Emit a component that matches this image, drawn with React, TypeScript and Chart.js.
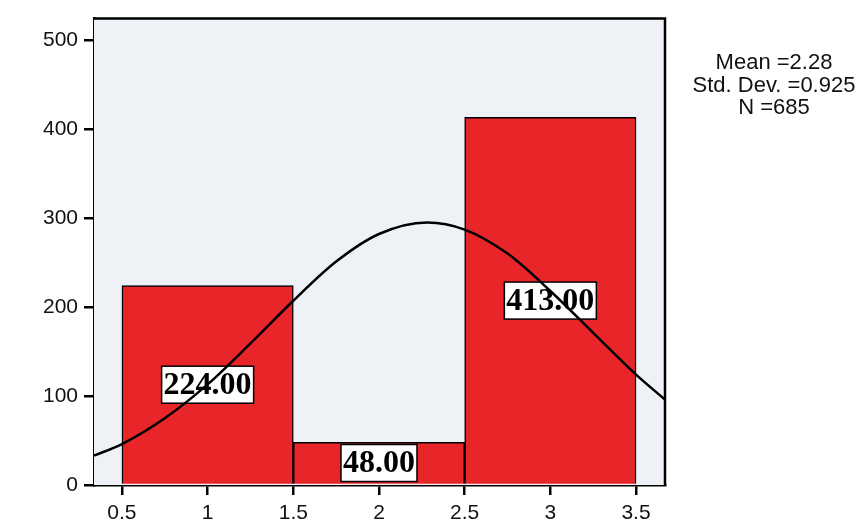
import React, { useEffect, useRef } from 'react';
import { Chart, registerables } from 'chart.js';

Chart.register(...registerables);

// Histogram bins (center of each bin) and counts
const binCenters = [1, 2, 3];
const binCounts = [224, 48, 413];
const binLabels = ['224.00', '48.00', '413.00'];

// Normal curve points
const curveX = [0.337, 0.5, 0.75, 1, 1.25, 1.5, 1.75, 2, 2.28, 2.5, 2.75, 3, 3.25, 3.5, 3.669];
const curveY = [33, 46, 75, 113, 159, 207, 251, 282, 295, 287, 260, 218, 171, 124, 96];

// Axis ticks
const xTicks = [0.5, 1, 1.5, 2, 2.5, 3, 3.5];
const yTicks = [0, 100, 200, 300, 400, 500];
const xRange = [0.337, 3.669];
const yRange = [0, 524];

// Statistics box
const statLines = ['Mean =2.28', 'Std. Dev. =0.925', 'N =685'];

const SANS = '"Liberation Sans", Arial, sans-serif';
const SERIF = '"Liberation Serif", "Times New Roman", serif';

export default function App() {
  const canvasRef = useRef<HTMLCanvasElement | null>(null);

  useEffect(() => {
    const canvas = canvasRef.current;
    if (!canvas) return;

    const bgPlugin = {
      id: 'plotBg',
      beforeDatasetsDraw(chart: any) {
        const { ctx, chartArea: a } = chart;
        ctx.save();
        ctx.fillStyle = '#eef2f6';
        ctx.fillRect(a.left, a.top, a.right - a.left, a.bottom - a.top);
        ctx.restore();
      },
    };

    const labelPlugin = {
      id: 'barLabels',
      afterDatasetDraw(chart: any, args: any) {
        if (args.meta.type !== 'bar') return;
        const { ctx } = chart;
        ctx.save();
        ctx.font = `bold 32px ${SERIF}`;
        ctx.textAlign = 'center';
        ctx.textBaseline = 'middle';
        args.meta.data.forEach((el: any, i: number) => {
          const text = binLabels[i];
          const cx = el.x;
          const cy = (el.y + el.base) / 2;
          const w = ctx.measureText(text).width + 4;
          const h = 37;
          ctx.fillStyle = '#ffffff';
          ctx.fillRect(cx - w / 2, cy - h / 2, w, h);
          ctx.lineWidth = 1.5;
          ctx.strokeStyle = '#000000';
          ctx.strokeRect(cx - w / 2, cy - h / 2, w, h);
          ctx.fillStyle = '#000000';
          ctx.fillText(text, cx, cy + 1);
        });
        ctx.restore();
      },
    };

    const framePlugin = {
      id: 'frame',
      afterDraw(chart: any) {
        const { ctx, chartArea: a } = chart;
        ctx.save();
        ctx.strokeStyle = '#000000';
        ctx.lineWidth = 2.5;
        ctx.beginPath();
        ctx.moveTo(a.left, a.top);
        ctx.lineTo(a.right, a.top);
        ctx.lineTo(a.right, a.bottom);
        ctx.stroke();

        ctx.fillStyle = '#111111';
        ctx.font = `22px ${SANS}`;
        ctx.textAlign = 'center';
        ctx.textBaseline = 'middle';
        statLines.forEach((t, i) => {
          ctx.fillText(t, 774, 63 + i * 22.5);
        });
        ctx.restore();
      },
    };

    const chart = new Chart(canvas, {
      type: 'bar',
      data: {
        datasets: [
          {
            type: 'line',
            data: curveX.map((x, i) => ({ x, y: curveY[i] })),
            borderColor: '#000000',
            borderWidth: 2.5,
            pointRadius: 0,
            tension: 0.4,
            cubicInterpolationMode: 'monotone',
            fill: false,
            order: 0,
            xAxisID: 'x',
          } as any,
          {
            type: 'bar',
            data: binCenters.map((x, i) => ({ x, y: binCounts[i] })),
            backgroundColor: '#e8262a',
            borderColor: '#000000',
            borderWidth: 1.5,
            barPercentage: 1,
            categoryPercentage: 1,
            order: 1,
            xAxisID: 'x',
          } as any,
        ],
      },
      options: {
        animation: false,
        responsive: true,
        maintainAspectRatio: false,
        layout: { padding: { top: 13, right: 194, left: 0, bottom: 0 } },
        plugins: {
          legend: { display: false },
          tooltip: { enabled: false },
        },
        scales: {
          x: {
            type: 'linear',
            display: false,
            offset: false,
            min: xRange[0],
            max: xRange[1],
            grid: { offset: false },
            afterBuildTicks(scale: any) {
              scale.ticks = binCenters.map((v) => ({ value: v }));
            },
          },
          xAxis: {
            type: 'linear',
            position: 'bottom',
            offset: false,
            min: xRange[0],
            max: xRange[1],
            afterBuildTicks(scale: any) {
              scale.ticks = xTicks.map((v) => ({ value: v }));
            },
            afterFit(scale: any) {
              scale.height = 36;
            },
            grid: {
              display: true,
              offset: false,
              drawOnChartArea: false,
              drawTicks: true,
              tickLength: 10,
              color: '#000000',
              lineWidth: 2.5,
            },
            border: { display: true, color: '#000000', width: 2.5 },
            ticks: {
              padding: 6,
              color: '#111111',
              font: { family: SANS, size: 21 },
              maxRotation: 0,
              callback: (v: any) => String(v),
            },
          },
          y: {
            type: 'linear',
            min: yRange[0],
            max: yRange[1],
            afterBuildTicks(scale: any) {
              scale.ticks = yTicks.map((v) => ({ value: v }));
            },
            afterFit(scale: any) {
              scale.width = 94;
            },
            grid: {
              display: true,
              drawOnChartArea: false,
              drawTicks: true,
              tickLength: 10,
              color: '#000000',
              lineWidth: 2.5,
            },
            border: { display: true, color: '#000000', width: 2.5 },
            ticks: {
              padding: 6,
              color: '#111111',
              font: { family: SANS, size: 21 },
              callback: (v: any) => String(v),
            },
          },
        },
      } as any,
      plugins: [bgPlugin, labelPlugin, framePlugin],
    });

    return () => {
      chart.destroy();
    };
  }, []);

  return (
    <div
      style={{
        position: 'fixed',
        left: 0,
        top: 0,
        width: 859,
        height: 521,
        background: '#ffffff',
      }}
    >
      <canvas ref={canvasRef} />
    </div>
  );
}
